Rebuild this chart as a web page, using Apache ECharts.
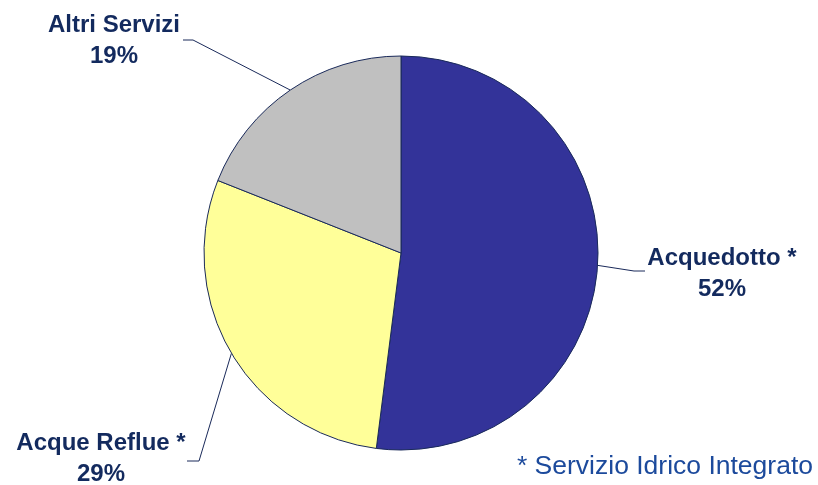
<!DOCTYPE html>
<html>
<head>
<meta charset="utf-8">
<script src="https://cdn.jsdelivr.net/npm/echarts@6/dist/echarts.min.js"></script>
<style>
  html, body { margin: 0; padding: 0; background: #fff; }
  #chart { width: 818px; height: 485px; }
</style>
</head>
<body>
<div id="chart"></div>
<script>
const categories = ['Acquedotto *', 'Acque Reflue *', 'Altri Servizi'];
const shares = [52, 29, 19];
const sliceColors = ['#333399', '#FFFF99', '#C0C0C0'];
const footnote = '* Servizio Idrico Integrato';

// where each label sits and where its leader line bends
const labelSpots = [
  { x: 722, y: 274, elbow: [634, 271], end: [645, 271] },
  { x: 101, y: 459, elbow: [199, 461], end: [187, 461] },
  { x: 114, y: 41, elbow: [193, 40], end: [183, 40] },
];

const chart = echarts.init(document.getElementById('chart'));

const option = {
  backgroundColor: '#fff',
  animation: false,
  graphic: [{
    type: 'text',
    right: 5,
    top: 453,
    style: {
      text: footnote,
      fill: '#1C4A9C',
      font: '26.5px "Liberation Sans", Arial, sans-serif',
    },
  }],
  series: [{
    type: 'pie',
    center: [401, 253],
    radius: 197,
    startAngle: 90,
    clockwise: true,
    percentPrecision: 0,
    itemStyle: {
      borderColor: '#1A2A5A',
      borderWidth: 1,
    },
    label: {
      show: true,
      position: 'outside',
      formatter: '{b}\n{d}%',
      color: '#132A5E',
      fontFamily: '"Liberation Sans", Arial, sans-serif',
      fontWeight: 'bold',
      fontSize: 24,
      lineHeight: 31,
      align: 'center',
    },
    labelLine: {
      show: true,
      lineStyle: { color: '#1A2A5A', width: 1 },
    },
    labelLayout: (params) => {
      const spot = labelSpots[params.dataIndex];
      const start = params.labelLinePoints ? params.labelLinePoints[0] : spot.elbow;
      return {
        x: spot.x,
        y: spot.y,
        align: 'center',
        verticalAlign: 'middle',
        labelLinePoints: [start, spot.elbow, spot.end],
      };
    },
    data: categories.map((name, i) => ({
      name: name,
      value: shares[i],
      itemStyle: { color: sliceColors[i] },
    })),
  }],
};

chart.setOption(option);
</script>
</body>
</html>
